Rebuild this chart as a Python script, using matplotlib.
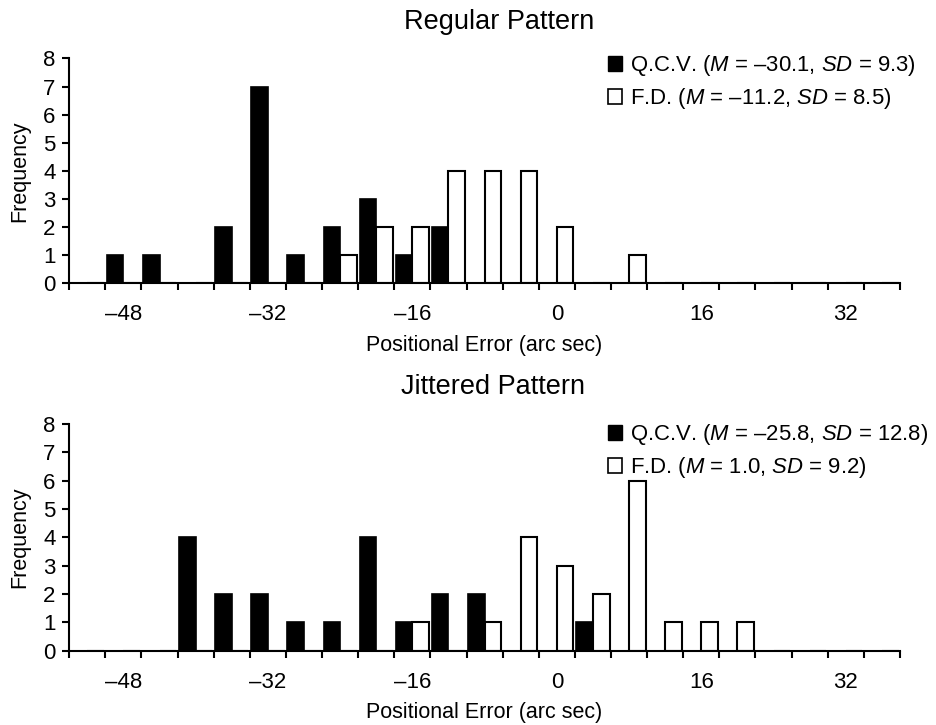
import matplotlib
matplotlib.use("Agg")
import matplotlib.pyplot as plt
import numpy as np

plt.rcParams['font.family'] = ['Liberation Sans', 'DejaVu Sans']
plt.rcParams['mathtext.fontset'] = 'custom'
plt.rcParams['mathtext.rm'] = 'Liberation Sans'
plt.rcParams['mathtext.it'] = 'Liberation Sans:italic'

# bin centres (arc sec), 4 arc sec wide
bins = np.arange(-52, 37, 4)

# Regular pattern counts
reg_qcv_bins = [-48, -44, -36, -32, -28, -24, -20, -16, -12]
reg_qcv_counts = [1, 1, 2, 7, 1, 2, 3, 1, 2]
reg_fd_bins = [-24, -20, -16, -12, -8, -4, 0, 8]
reg_fd_counts = [1, 2, 2, 4, 4, 4, 2, 1]

# Jittered pattern counts
jit_qcv_bins = [-40, -36, -32, -28, -24, -20, -16, -12, -8, 4]
jit_qcv_counts = [4, 2, 2, 1, 1, 4, 1, 2, 2, 1]
jit_fd_bins = [-16, -8, -4, 0, 4, 8, 12, 16, 20]
jit_fd_counts = [1, 1, 4, 3, 2, 6, 1, 1, 1]

tick_labels = [-48, -32, -16, 0, 16, 32]

reg_legend = [r'Q.C.V. ($M$ = –30.1, $SD$ = 9.3)', r'F.D. ($M$ = –11.2, $SD$ = 8.5)']
jit_legend = [r'Q.C.V. ($M$ = –25.8, $SD$ = 12.8)', r'F.D. ($M$ = 1.0, $SD$ = 9.2)']


def fill_bins(sel_bins, counts):
    out = np.zeros(len(bins))
    for b, c in zip(sel_bins, counts):
        out[list(bins).index(b)] = c
    return out


def draw_panel(ax, qcv, fd):
    w = 1.84
    ax.bar(bins - w / 2, qcv, width=w, color='black', edgecolor='black', linewidth=1.2)
    ax.bar(bins + w / 2, fd, width=w, color='white', edgecolor='black', linewidth=1.5)
    ax.set_xlim(-54, 38)
    ax.set_ylim(0, 8)
    ax.spines['top'].set_visible(False)
    ax.spines['right'].set_visible(False)
    ax.spines['left'].set_linewidth(1.5)
    ax.spines['bottom'].set_linewidth(1.5)
    ax.set_xticks(tick_labels)
    ax.set_xticklabels([str(t).replace('-', '–') for t in tick_labels])
    ax.set_xticks(np.arange(-54, 39, 4), minor=True)
    ax.tick_params(axis='x', which='major', length=0, labelsize=16, pad=15)
    ax.tick_params(axis='x', which='minor', length=5, width=1.5, direction='out')
    ax.set_yticks(range(0, 9))
    ax.tick_params(axis='y', length=5, width=1.5, labelsize=16, pad=5)
    ax.set_ylabel('Frequency', fontsize=15.5, labelpad=9)
    ax.set_xlabel('Positional Error (arc sec)', fontsize=15.5, labelpad=7)


fig = plt.figure(figsize=(9.36, 7.25), dpi=100)
ax1 = fig.add_axes([0.074, 0.609, 0.8875, 0.3105])
ax2 = fig.add_axes([0.074, 0.1025, 0.8875, 0.3127])

draw_panel(ax1, fill_bins(reg_qcv_bins, reg_qcv_counts), fill_bins(reg_fd_bins, reg_fd_counts))
draw_panel(ax2, fill_bins(jit_qcv_bins, jit_qcv_counts), fill_bins(jit_fd_bins, jit_fd_counts))

fig.text(0.533, 0.970, 'Regular Pattern', ha='center', va='center', fontsize=19.5)
fig.text(0.527, 0.466, 'Jittered Pattern', ha='center', va='center', fontsize=19.5)

for ax, labels, y in [(ax1, reg_legend, 0.939), (ax2, jit_legend, 0.4295)]:
    h1 = plt.Rectangle((0, 0), 1, 1, facecolor='black', edgecolor='black')
    h2 = plt.Rectangle((0, 0), 1, 1, facecolor='white', edgecolor='black', linewidth=1.2)
    fig.legend([h1, h2], labels, loc='upper left', bbox_to_anchor=(0.640, y),
               frameon=False, fontsize=15.9, handlelength=0.65, handleheight=0.65,
               handletextpad=0.35, labelspacing=0.36, borderaxespad=0)

fig.savefig('out.png', dpi=100)
